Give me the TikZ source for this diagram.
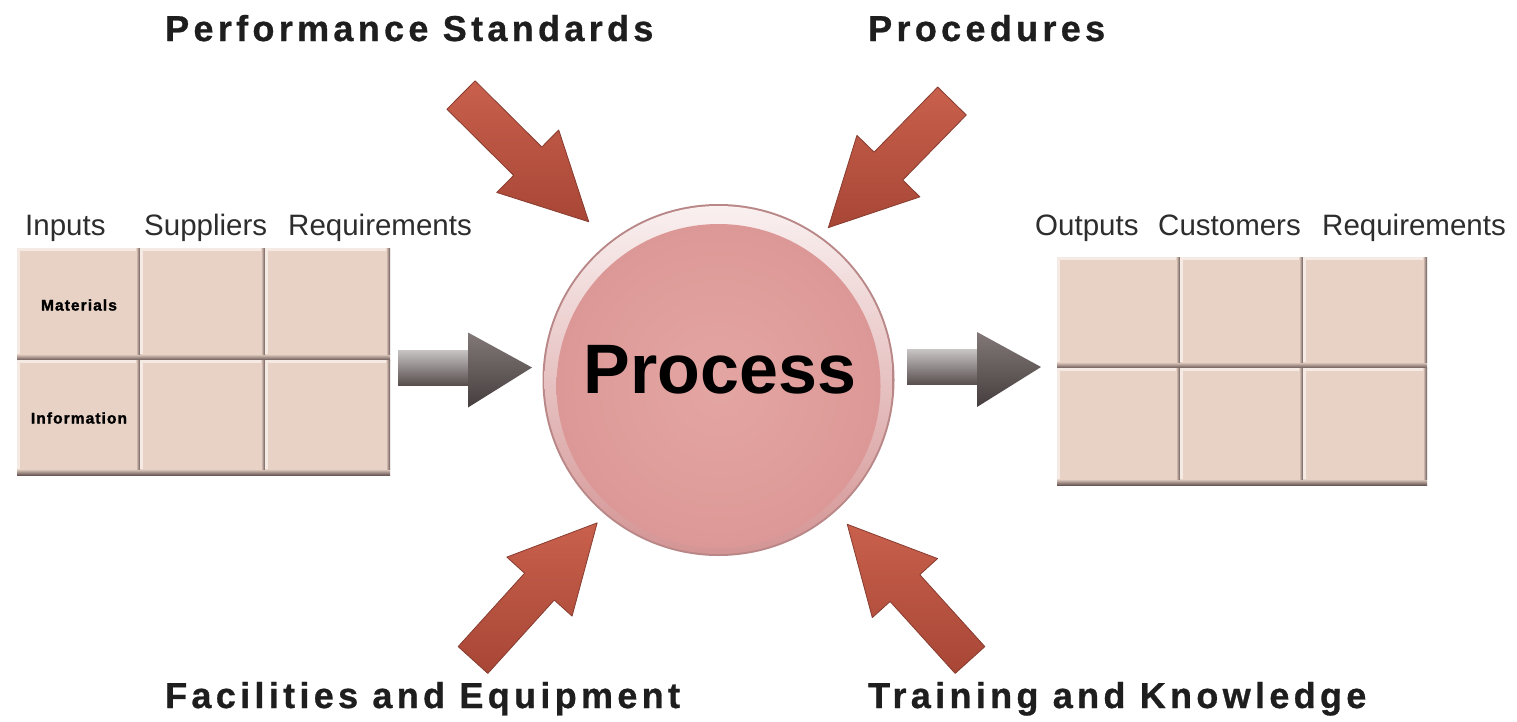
\documentclass[tikz,border=0pt]{standalone}
\usepackage{fontspec}
\setmainfont{Liberation Sans}
\newfontfamily\spacedfont[LetterSpace=12,FakeBold=0.8]{Liberation Sans}
\newfontfamily\smallspaced[LetterSpace=7,FakeBold=1.6]{Liberation Sans}
\usetikzlibrary{calc}
\definecolor{cellc}{RGB}{232,210,198}
\definecolor{cellshadow}{RGB}{105,88,86}
\definecolor{celllight}{RGB}{246,234,228}
\definecolor{arrowredlight}{RGB}{200,96,76}
\definecolor{arrowreddark}{RGB}{168,70,54}
\definecolor{arrowredline}{RGB}{135,60,48}
\definecolor{titlec}{RGB}{30,30,30}
\definecolor{labelc}{RGB}{45,45,45}
\definecolor{circedge}{RGB}{185,135,135}
\definecolor{rimtop}{RGB}{250,240,240}
\definecolor{rimbot}{RGB}{212,148,148}
\definecolor{pinkin}{RGB}{228,166,163}
\definecolor{pinkout}{RGB}{220,152,150}
\definecolor{graylight}{RGB}{200,196,196}
\definecolor{graymid}{RGB}{118,108,108}
\definecolor{graydark}{RGB}{88,78,78}
\definecolor{headlight}{RGB}{130,120,120}
\definecolor{headdark}{RGB}{70,62,62}

\newcommand{\Cell}[5]{%
  \node[cell, minimum width=#4, minimum height=#5] (#1) at (#2,#3) {};
  \fill[celllight] (#1.north west) rectangle ([yshift=-3pt]#1.north east);
  \fill[celllight] (#1.north west) rectangle ([xshift=3pt]#1.south west);
  \shade[top color=cellc, bottom color=cellshadow] ([yshift=6pt]#1.south west) rectangle (#1.south east);
  \shade[left color=cellc, right color=cellshadow] ([xshift=-4pt]#1.north east) rectangle ([yshift=6pt]#1.south east);
}
\newcommand{\RedArrow}[3]{%
  \begin{scope}[shift={(#1)}, rotate=#2]
    \shadedraw[top color=arrowredlight, bottom color=arrowreddark, draw=arrowredline, line width=0.8pt, line join=round]
      (0,20) -- ({#3-86},20) -- ({#3-86},44) -- (#3,0) -- ({#3-86},-44) -- ({#3-86},-20) -- (0,-20) -- cycle;
  \end{scope}}
\newcommand{\GrayArrow}[1]{%
  \begin{scope}[shift={(#1)}]
    \shade[top color=graylight, middle color=graymid, bottom color=graydark] (0,-17.5) rectangle (70,17.5);
    \shade[top color=headlight, bottom color=headdark] (70,-35) -- (134,0) -- (70,40) -- cycle;
  \end{scope}}

\begin{document}
\begin{tikzpicture}[x=1pt,y=-1pt,
  title/.style={font=\spacedfont\bfseries\fontsize{36}{40}\selectfont, text=titlec, anchor=base west, inner sep=0pt},
  collabel/.style={font=\fontsize{29.5}{33}\selectfont, text=labelc, anchor=base west, inner sep=0pt},
  rowlabel/.style={font=\smallspaced\bfseries\fontsize{15.5}{17}\selectfont, text=black, inner sep=0pt},
  cell/.style={fill=cellc, anchor=north west, inner sep=0pt, outer sep=0pt}]
\useasboundingbox (0,0) rectangle (1517,721);
\fill[white] (0,0) rectangle (1517,721);

% titles
\node[title] (ps) at (165,41) {Performance Standards};
\node[title] (pr) at (868,41) {Procedures};
\node[title] (fe) at (165,708) {Facilities and Equipment};
\node[title] (tk) at (868,708) {Training and Knowledge};

% left column labels
\node[collabel] (inp) at (25,235) {Inputs};
\node[collabel] (sup) at (144,235) {Suppliers};
\node[collabel] (reqL) at (288,235) {Requirements};
% right column labels
\node[collabel] (outp) at (1035,235) {Outputs};
\node[collabel] (cus) at (1158,235) {Customers};
\node[collabel] (reqR) at (1322,235) {Requirements};

% left grid
\Cell{L11}{17}{248}{123}{112}
\Cell{L12}{140}{248}{125}{112}
\Cell{L13}{265}{248}{125}{112}
\Cell{L21}{17}{360}{123}{115}
\Cell{L22}{140}{360}{125}{115}
\Cell{L23}{265}{360}{125}{115}
\node[rowlabel] (mat) at (79,305) {Materials};
\node[rowlabel] (inf) at (79,418) {Information};

% right grid
\Cell{R11}{1057}{257}{123}{111}
\Cell{R12}{1180}{257}{123}{111}
\Cell{R13}{1303}{257}{124}{111}
\Cell{R21}{1057}{368}{123}{117}
\Cell{R22}{1180}{368}{123}{117}
\Cell{R23}{1303}{368}{124}{117}

% central circle
\coordinate (pc) at (718.5,380);
\fill[circedge] (pc) circle[radius=176pt];
\shade[top color=rimtop, bottom color=rimbot] (pc) circle[radius=174pt];
\shade[inner color=pinkin, outer color=pinkout] ($(pc)+(0,6)$) circle[radius=162pt];
\node[anchor=base, font=\bfseries\fontsize{70}{80}\selectfont, text=black, inner sep=0pt] (process) at (720,393) {Process};

% gray arrows
\coordinate (gl) at (398,367.5);
\coordinate (gr) at (907,367);
\GrayArrow{gl}
\GrayArrow{gr}

% red arrows
\coordinate (tlA) at (461,95);
\coordinate (trA) at (952,101);
\coordinate (blA) at (473,660);
\coordinate (brA) at (970,660);
\RedArrow{tlA}{-44.78}{180}
\RedArrow{trA}{-134.32}{177}
\RedArrow{blA}{47.85}{185}
\RedArrow{brA}{132.13}{183}
\end{tikzpicture}
\end{document}
